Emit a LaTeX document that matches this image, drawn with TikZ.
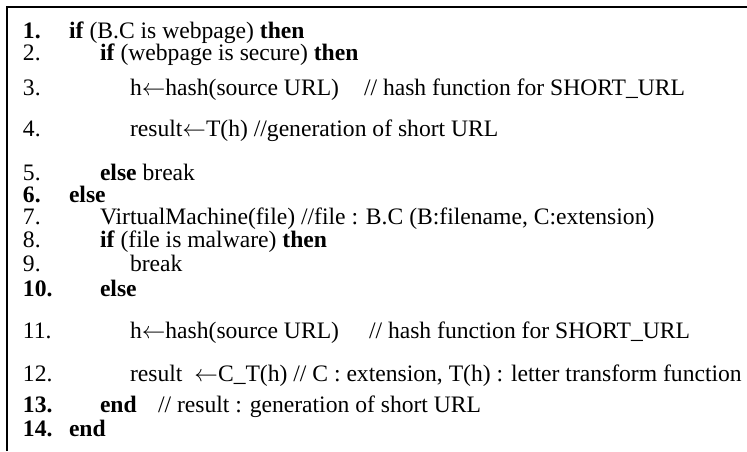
\RequirePackage{fix-cm}
\documentclass[tikz,border=0pt]{standalone}
\usepackage{fontspec}
\setmainfont{Liberation Serif}
\newcommand{\assignarrow}{\ensuremath{\leftarrow}}
\begin{document}
\begin{tikzpicture}[x=1pt,y=-1pt,
  txt/.style={inner sep=0pt,outer sep=0pt,anchor=base west,
    font=\fontsize{23.6}{26}\selectfont},
  frame/.style={line width=2.6pt,line join=miter}]
\useasboundingbox (0,0) rectangle (747,451);
% open frame: left and top rules only
\coordinate (fbot) at (7,451);
\coordinate (fcorner) at (7,7);
\coordinate (fright) at (747,7);
\draw[frame] (fbot) -- (fcorner) -- (fright);

% baselines of the fourteen lines
\def\ya{38}\def\yb{60.5}\def\yc{95}\def\yd{136}\def\ye{180}
\def\yf{202}\def\yg{224}\def\yh{247}\def\yi{271}\def\yj{296}
\def\yk{338}\def\yl{381}\def\ym{412}\def\yn{436}

% line numbers
\def\numx{23}
\node[txt] (n1)  at (\numx,\ya) {\textbf{1.}};
\node[txt] (n2)  at (\numx,\yb) {2.};
\node[txt] (n3)  at (\numx,\yc) {3.};
\node[txt] (n4)  at (\numx,\yd) {4.};
\node[txt] (n5)  at (\numx,\ye) {5.};
\node[txt] (n6)  at (\numx,\yf) {\textbf{6.}};
\node[txt] (n7)  at (\numx,\yg) {7.};
\node[txt] (n8)  at (\numx,\yh) {8.};
\node[txt] (n9)  at (\numx,\yi) {9.};
\node[txt] (n10) at (\numx,\yj) {\textbf{10.}};
\node[txt] (n11) at (\numx,\yk) {11.};
\node[txt] (n12) at (\numx,\yl) {12.};
\node[txt] (n13) at (\numx,\ym) {\textbf{13.}};
\node[txt] (n14) at (\numx,\yn) {\textbf{14.}};

% statements, three indent levels
\def\la{69}\def\lb{100}\def\lc{130}
\node[txt] (s1)  at (\la,\ya) {\textbf{if} (B.C is webpage) \textbf{then}};
\node[txt] (s2)  at (\lb,\yb) {\textbf{if} (webpage is secure) \textbf{then}};
\node[txt] (s3)  at (\lc,\yc) {h\assignarrow hash(source URL)};
\node[txt] (c3)  at (364,\yc) {// hash function for SHORT\_URL};
\node[txt] (s4)  at (\lc,\yd) {result\assignarrow T(h) //generation of short URL};
\node[txt] (s5)  at (\lb,\ye) {\textbf{else} break};
\node[txt] (s6)  at (\la,\yf) {\textbf{else}};
\node[txt] (s7)  at (\lb,\yg) {VirtualMachine(file) //file : B.C (B:filename, C:extension)};
\node[txt] (s8)  at (\lb,\yh) {\textbf{if} (file is malware) \textbf{then}};
\node[txt] (s9)  at (\lc,\yi) {break};
\node[txt] (s10) at (\lb,\yj) {\textbf{else}};
\node[txt] (s11) at (\lc,\yk) {h\assignarrow hash(source URL)};
\node[txt] (c11) at (369,\yk) {// hash function for SHORT\_URL};
\node[txt] (s12) at (\lc,\yl) {result\hspace{12pt}\assignarrow C\_T(h) // C : extension, T(h) : letter transform function};
\node[txt] (s13) at (\lb,\ym) {\textbf{end}};
\node[txt] (c13) at (158,\ym) {// result : generation of short URL};
\node[txt] (s14) at (\la,\yn) {\textbf{end}};
\end{tikzpicture}
\end{document}
